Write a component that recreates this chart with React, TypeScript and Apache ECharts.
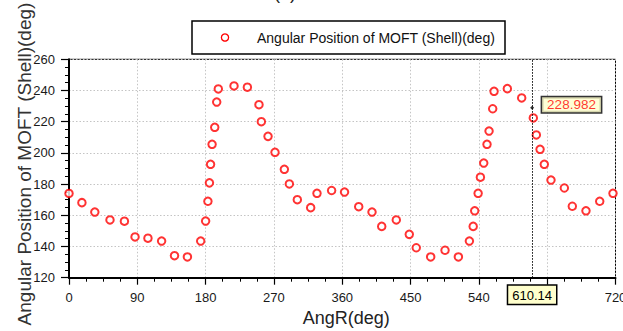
import React, { useEffect, useRef } from "react";
import * as echarts from "echarts";

// Shell angular position sampled against the rotor angle AngR
const angR = [
  0, 17, 34, 54, 73, 87, 104, 122, 139, 156, 173.5, 180, 183, 185, 186.5, 188.5,
  192, 194.6, 196.7, 217.4, 235, 250.3, 253.4, 262.2, 271.4, 283.7, 290.3, 300.8,
  318.4, 326.7, 346, 363, 381.7, 399.2, 412, 431.2, 448.3, 457.5, 476.5, 495.4,
  513, 527.5, 532.5, 534.5, 539, 542, 546.4, 550.7, 553.4, 558.2, 560, 577.5,
  596.4, 611.7, 615.7, 620.6, 626.2, 635, 652.6, 663.1, 681.1, 699.2, 716.7,
];
const shellPosition = [
  174, 168.1, 162.1, 157, 156.2, 146.1, 145.3, 143.5, 134.1, 133.3, 143.5, 156.3,
  169, 180.8, 192.7, 205.5, 216.4, 232.6, 241, 242.9, 242.1, 230.9, 220, 210.6,
  200.4, 189.5, 180.1, 170, 164.9, 174.1, 175.9, 174.9, 165.5, 162.1, 152.9, 157,
  147.8, 139.2, 133.3, 137.6, 133.3, 143.5, 152.9, 162.9, 174.1, 184.4, 193.5,
  205.5, 214, 228.3, 239.5, 241.2, 235.2, 222.4, 211.5, 202.3, 192.7, 182.6,
  177.5, 165.8, 162.9, 169, 174.1,
];

// Data cursor
const cursorAng = 610.14;
const cursorValue = 228.982;

const xMin = 0;
const xMax = 720;
const xStep = 90;
const yMin = 120;
const yMax = 260;
const yStep = 20;

const seriesName = "Angular Position of MOFT (Shell)(deg)";
const xTitle = "AngR(deg)";
const panelTitle = "(a)";

const FONT = "'Liberation Sans', Arial, Helvetica, sans-serif";
const RED = "#ff0000";
const NOTE_BG = "#ffffcc";

export default function App() {
  const ref = useRef<HTMLDivElement>(null);

  useEffect(() => {
    if (!ref.current) return;
    const chart = echarts.init(ref.current, undefined, { renderer: "svg" });
    const points = angR.map((a, i) => [a, shellPosition[i]]);

    chart.setOption({
      animation: false,
      backgroundColor: "#ffffff",
      grid: {
        left: 69,
        right: 7.5,
        top: 59.3,
        bottom: 53.3,
        outerBoundsMode: "none",
        containLabel: false,
        show: true,
        borderColor: "#000",
        borderWidth: 1,
        backgroundColor: "transparent",
      },
      xAxis: {
        type: "value",
        min: xMin,
        max: xMax,
        interval: xStep,
        name: xTitle,
        nameLocation: "middle",
        nameGap: 29,
        nameTextStyle: { fontFamily: FONT, fontSize: 18, color: "#222", padding: [0, 0, 0, 8] },
        axisLine: { show: true, onZero: false, lineStyle: { color: "#000", width: 2 } },
        axisTick: { show: true, length: 7, lineStyle: { color: "#000", width: 1.2 } },
        minorTick: { show: true, splitNumber: 4, length: 4, lineStyle: { color: "#000", width: 1 } },
        axisLabel: {
          fontFamily: FONT,
          fontSize: 13,
          color: "#1a1a1a",
          margin: 13,
          // the cursor's value box sits over the 630 tick
          formatter: (v: number) => (Math.abs(v - 630) < 1e-6 ? "" : String(v)),
        },
        splitLine: { show: true, lineStyle: { color: "#c4c4c4", type: [1.5, 2], width: 1 } },
      },
      yAxis: {
        type: "value",
        min: yMin,
        max: yMax,
        interval: yStep,
        axisLine: { show: true, onZero: false, lineStyle: { color: "#000", width: 2 } },
        axisTick: { show: true, length: 8, lineStyle: { color: "#000", width: 1.2 } },
        minorTick: { show: true, splitNumber: 4, length: 4, lineStyle: { color: "#000", width: 1 } },
        axisLabel: { fontFamily: FONT, fontSize: 13, color: "#1a1a1a", margin: 14 },
        splitLine: { show: true, lineStyle: { color: "#c4c4c4", type: [1.5, 2], width: 1 } },
      },
      series: [
        {
          name: seriesName,
          type: "scatter",
          data: points,
          symbol: "emptyCircle",
          symbolSize: 7.5,
          itemStyle: { color: RED, borderColor: RED, borderWidth: 1.3 },
          markLine: {
            silent: true,
            symbol: "none",
            lineStyle: { color: "#000", type: [1.5, 1.5], width: 1 },
            label: {
              show: true,
              position: "start",
              distance: 8,
              formatter: String(cursorAng),
              fontFamily: FONT,
              fontSize: 13,
              color: "#000",
              backgroundColor: NOTE_BG,
              borderColor: "#000",
              borderWidth: 1.5,
              padding: [3, 4, 2, 4],
            },
            data: [{ xAxis: cursorAng }],
          },
        },
        {
          name: "cursor",
          type: "scatter",
          data: [[cursorAng, cursorValue]],
          symbol: "diamond",
          symbolSize: 4,
          itemStyle: { color: "#000" },
          z: 5,
          label: {
            show: true,
            position: "right",
            distance: 8,
            offset: [0, -3],
            formatter: String(cursorValue),
            fontFamily: FONT,
            fontSize: 13.5,
            color: RED,
            backgroundColor: NOTE_BG,
            borderColor: "#000",
            borderWidth: 1.5,
            padding: [1, 5, 0, 5],
          },
        },
      ],
      graphic: [
        // legend frame
        {
          type: "rect",
          shape: { x: 192, y: 21, width: 313, height: 33 },
          style: { fill: "#fff", stroke: "#000", lineWidth: 1.5 },
        },
        {
          type: "circle",
          shape: { cx: 225, cy: 37.5, r: 3.6 },
          style: { fill: "#fff", stroke: RED, lineWidth: 1.3 },
        },
        {
          type: "text",
          x: 257,
          y: 38,
          style: {
            text: seriesName,
            fontFamily: FONT,
            fontSize: 14,
            fill: "#111",
            align: "left",
            verticalAlign: "middle",
          },
        },
        // y-axis title
        {
          type: "text",
          x: 24,
          y: 164,
          rotation: Math.PI / 2,
          style: {
            text: seriesName,
            fontFamily: FONT,
            fontSize: 19,
            fill: "#333",
            align: "center",
            verticalAlign: "middle",
          },
        },
        // panel title
        {
          type: "text",
          x: 285,
          y: -7,
          style: {
            text: panelTitle,
            fontFamily: FONT,
            fontSize: 18,
            fill: "#222",
            align: "center",
            verticalAlign: "middle",
          },
        },
      ],
    });

    return () => chart.dispose();
  }, []);

  return <div ref={ref} style={{ width: 623, height: 331, position: "absolute", left: 0, top: 0 }} />;
}
